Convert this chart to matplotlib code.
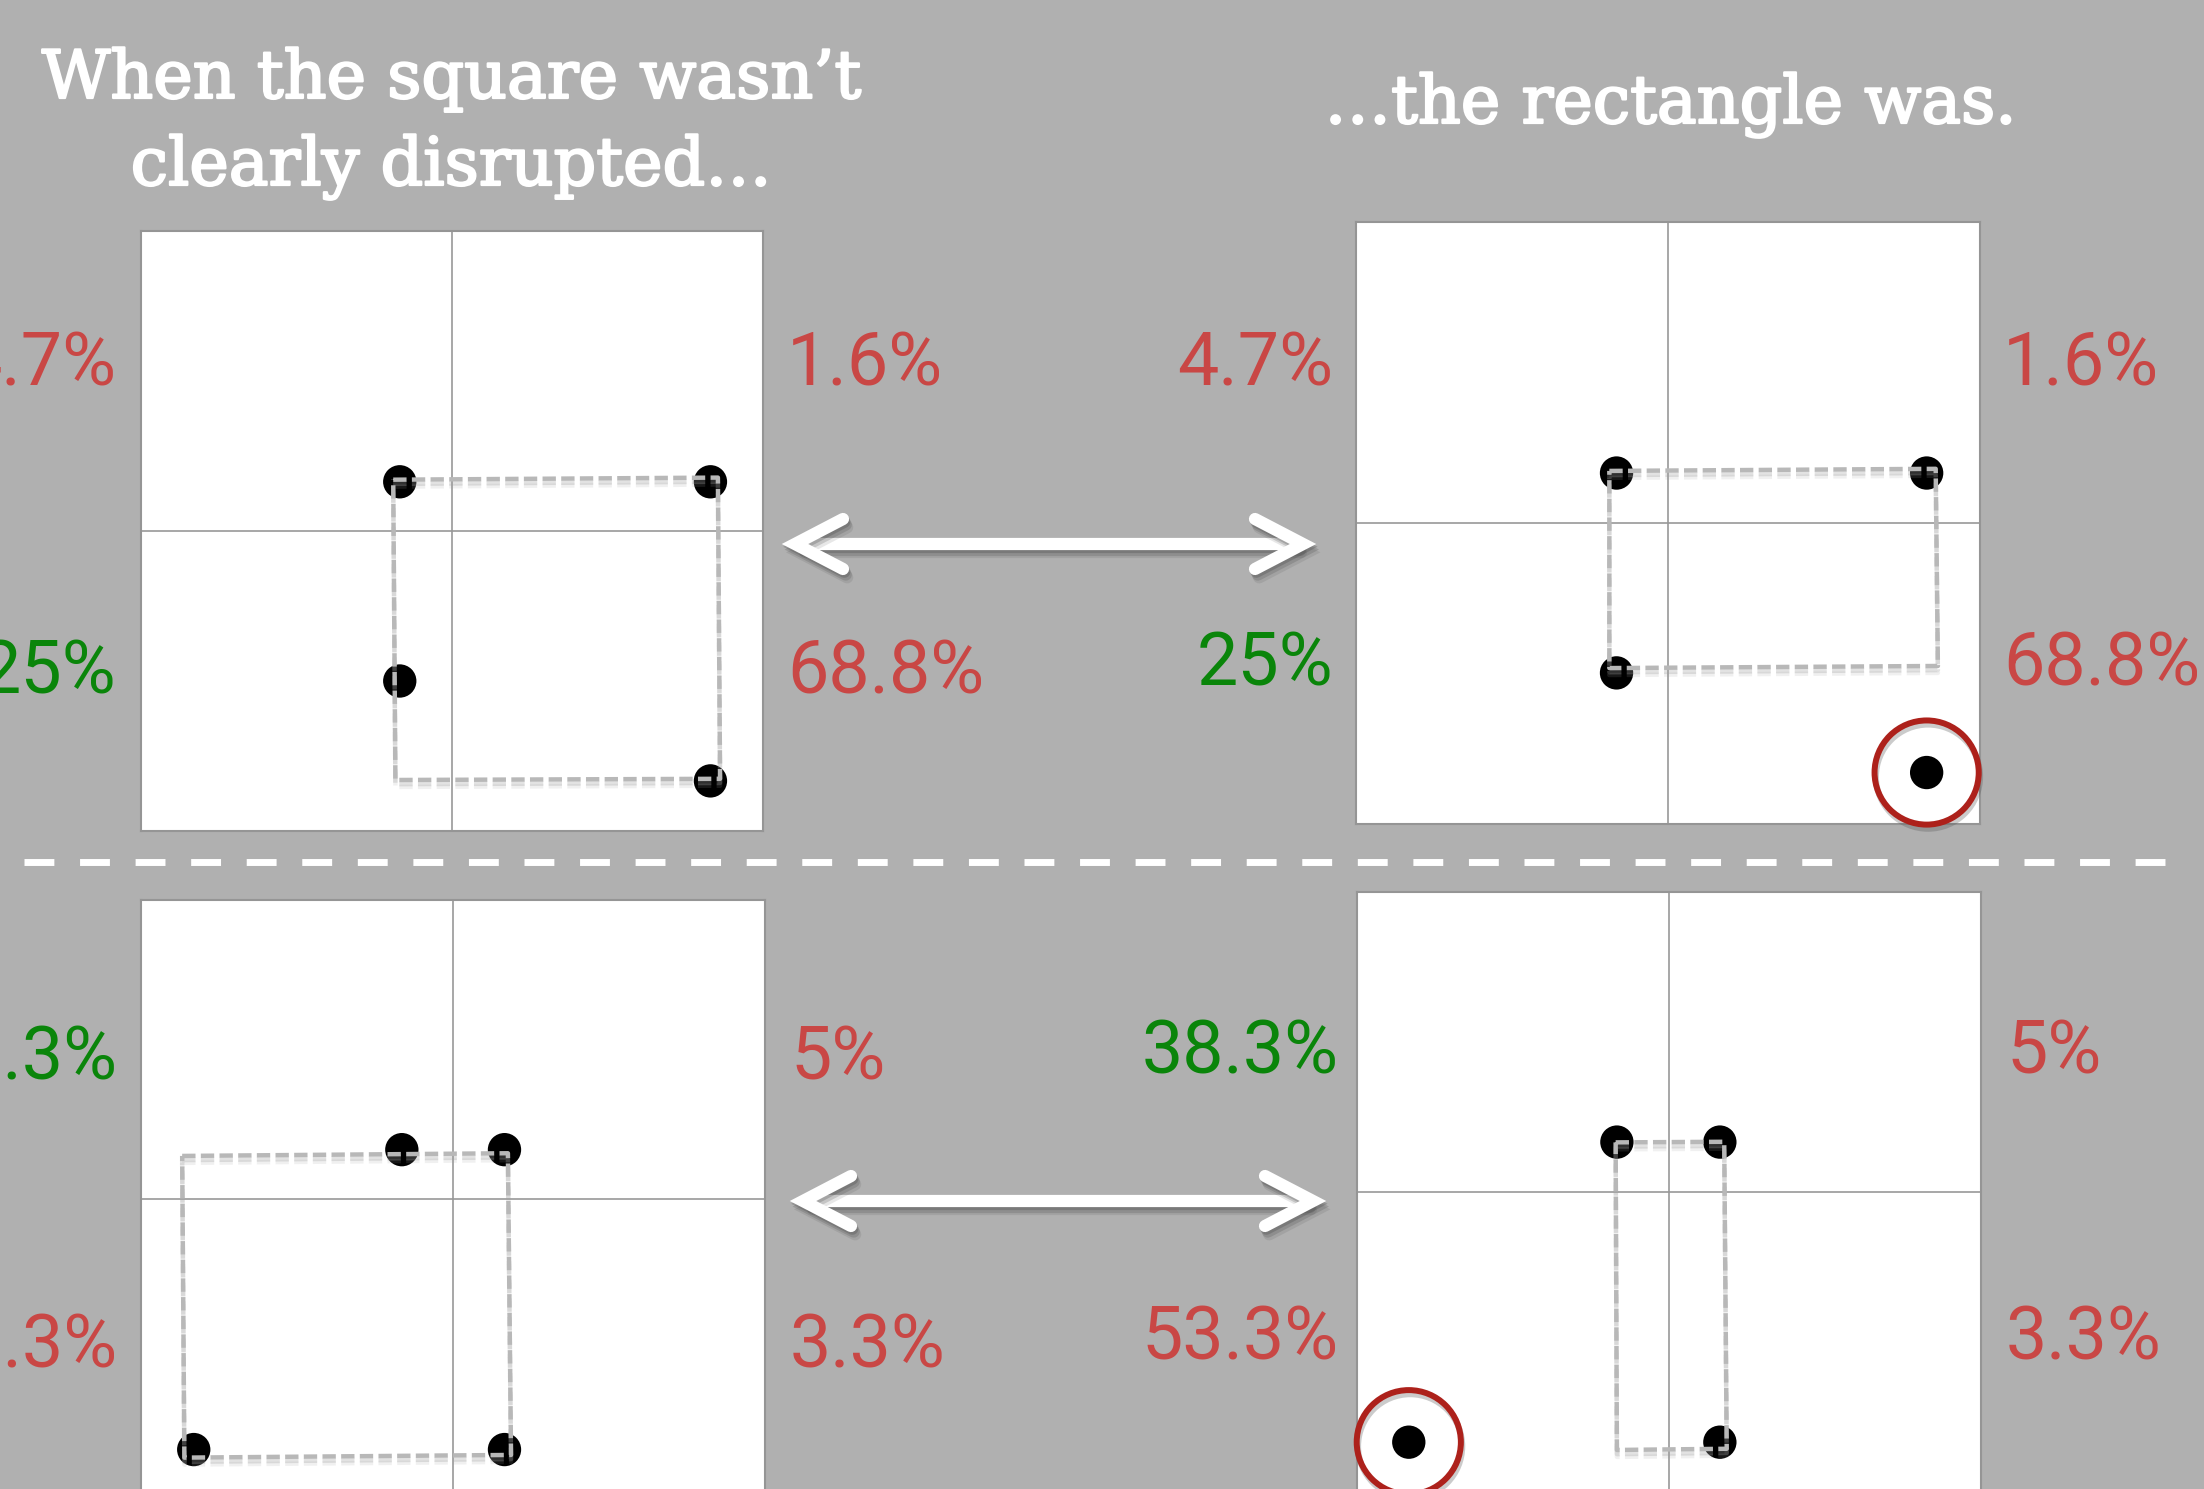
import matplotlib
matplotlib.use('Agg')
import matplotlib.pyplot as plt
import matplotlib.patheffects as pe

W, H = 2204, 1489
BG = '#b0b0b0'
RED = '#c94745'
GREEN = '#0a850a'

# dots in each panel (panel coords, -1..1, quadrant lines at 0)
sq_top_x = [-0.168, 0.831, -0.168, 0.831]
sq_top_y = [0.164, 0.164, -0.500, -0.833]
rect_top_x = [-0.165, 0.829, -0.165, 0.829]
rect_top_y = [0.166, 0.166, -0.498, -0.829]
sq_bot_x = [-0.164, 0.165, -0.831, 0.165]
sq_bot_y = [0.165, 0.165, -0.838, -0.838]
rect_bot_x = [-0.167, 0.163, 0.163, -0.834]
rect_bot_y = [0.165, 0.165, -0.837, -0.837]

# which dot is circled in red (index into the panel's dots, None = no circle)
circled = [None, 3, None, 3]

# hand-drawn dashed outlines (corners, clockwise from top-left)
sq_top_out_x = [-0.189, 0.855, 0.862, -0.182]
sq_top_out_y = [0.171, 0.178, -0.826, -0.830]
rect_top_out_x = [-0.188, 0.858, 0.865, -0.188]
rect_top_out_y = [0.173, 0.180, -0.475, -0.482]
sq_bot_out_x = [-0.868, 0.176, 0.186, -0.861]
sq_bot_out_y = [0.144, 0.153, -0.856, -0.865]
rect_bot_out_x = [-0.171, 0.177, 0.185, -0.167]
rect_bot_out_y = [0.164, 0.166, -0.859, -0.863]

# percentages around each pair (upper-left, upper-right, lower-left, lower-right)
top_labels = ['4.7%', '1.6%', '25%', '68.8%']
top_colors = [RED, RED, GREEN, RED]
bot_labels = ['38.3%', '5%', '53.3%', '3.3%']
bot_colors = [GREEN, RED, RED, RED]

title_left = ['When the square wasn\u2019t', 'clearly disrupted\u2026']
title_right = '\u2026the rectangle was.'

# ---- layout (pixels) ----
PANELS = [(141, 231, 763, 831), (1356, 222, 1980, 824),
          (141, 900, 765, 1498), (1357, 892, 1981, 1491)]
# label anchors per panel: (x_left_col, x_right_col, baseline_row1, baseline_row2)
LABEL_POS = [(116, 787, 386, 694), (1333, 2003, 385, 686),
             (118, 790, 1080, 1367), (1339, 2006, 1073, 1360)]
ARROWS = [(795, 1303, 544), (803, 1313, 1201)]

fig = plt.figure(figsize=(W / 100, H / 100), dpi=100, facecolor=BG)

# overlay axes in pixel coordinates for titles, labels, arrows, separator
ov = fig.add_axes([0, 0, 1, 1])
ov.set_xlim(0, W)
ov.set_ylim(H, 0)
ov.axis('off')

serif = dict(family='DejaVu Serif', color='white', fontsize=48,
             path_effects=[pe.withStroke(linewidth=1.6, foreground='white')])
ov.text(451, 98, title_left[0], ha='center', va='baseline', **serif)
ov.text(451, 185, title_left[1], ha='center', va='baseline', **serif)
ov.text(1670, 123, title_right, ha='center', va='baseline', **serif)

# dashed separator
ov.plot([24, 2183], [862, 862], color='white', lw=5.0,
        ls=(0, (4.3, 3.7)), dash_capstyle='butt')

# soft shadow: a few offset, faint copies
shadow = [pe.SimpleLineShadow(offset=(1, -2), shadow_color='#404040', alpha=0.25),
          pe.SimpleLineShadow(offset=(2, -4), shadow_color='#404040', alpha=0.2),
          pe.SimpleLineShadow(offset=(3, -6), shadow_color='#404040', alpha=0.12),
          pe.Normal()]
for xl, xr, y in ARROWS:
    dx, dy = 48, 25
    kw = dict(color='white', lw=8.8, solid_capstyle='round',
              solid_joinstyle='miter', path_effects=shadow)
    ov.plot([xl + 6, xr - 6], [y, y], **kw)
    ov.plot([xl + dx, xl, xl + dx], [y - dy, y, y + dy], **kw)
    ov.plot([xr - dx, xr, xr - dx], [y - dy, y, y + dy], **kw)

sans = dict(family=['Roboto', 'DejaVu Sans'], fontweight='normal', fontsize=53)
for i, (xa, xb, y1, y2) in enumerate(LABEL_POS):
    labels = top_labels if i < 2 else bot_labels
    colors = top_colors if i < 2 else bot_colors
    ov.text(xa, y1, labels[0], color=colors[0], ha='right', va='baseline', **sans)
    ov.text(xb, y1, labels[1], color=colors[1], ha='left', va='baseline', **sans)
    ov.text(xa, y2, labels[2], color=colors[2], ha='right', va='baseline', **sans)
    ov.text(xb, y2, labels[3], color=colors[3], ha='left', va='baseline', **sans)

dots = [(sq_top_x, sq_top_y), (rect_top_x, rect_top_y),
        (sq_bot_x, sq_bot_y), (rect_bot_x, rect_bot_y)]
outlines = [(sq_top_out_x, sq_top_out_y), (rect_top_out_x, rect_top_out_y),
            (sq_bot_out_x, sq_bot_out_y), (rect_bot_out_x, rect_bot_out_y)]

for box, (dx_, dy_), (ox, oy), ci in zip(PANELS, dots, outlines, circled):
    x0, y0, x1, y1 = box
    ax = fig.add_axes([x0 / W, 1 - y1 / H, (x1 - x0) / W, (y1 - y0) / H])
    ax.set_xlim(-1, 1)
    ax.set_ylim(-1, 1)
    ax.set_facecolor('white')
    ax.set_xticks([])
    ax.set_yticks([])
    for s in ax.spines.values():
        s.set_color('#959595')
        s.set_linewidth(1.5)
    ax.axhline(0, color='#989898', lw=1.2, zorder=1)
    ax.axvline(0, color='#989898', lw=1.2, zorder=1)

    ax.scatter(dx_, dy_, s=24 ** 2, color='black', edgecolors='none', zorder=3)
    ax.plot(ox + ox[:1], oy + oy[:1], color='#b8b8b8', lw=3.2,
            ls=(0, (3, 1.2)), zorder=4,
            path_effects=[pe.SimpleLineShadow(offset=(0, -3), shadow_color='#a0a0a0',
                                              alpha=0.3),
                          pe.SimpleLineShadow(offset=(0, -5), shadow_color='#a0a0a0',
                                              alpha=0.15),
                          pe.Normal()])
    if ci is not None:
        ax.scatter([dx_[ci]], [dy_[ci]], s=75 ** 2, facecolors='none',
                   edgecolors='#ad211b', linewidths=4.3, zorder=5, clip_on=False,
                   path_effects=[pe.SimpleLineShadow(offset=(1, -3), shadow_color='#555555',
                                                     alpha=0.3),
                                 pe.Normal()])

fig.savefig('out.png', dpi=100, facecolor=BG)
